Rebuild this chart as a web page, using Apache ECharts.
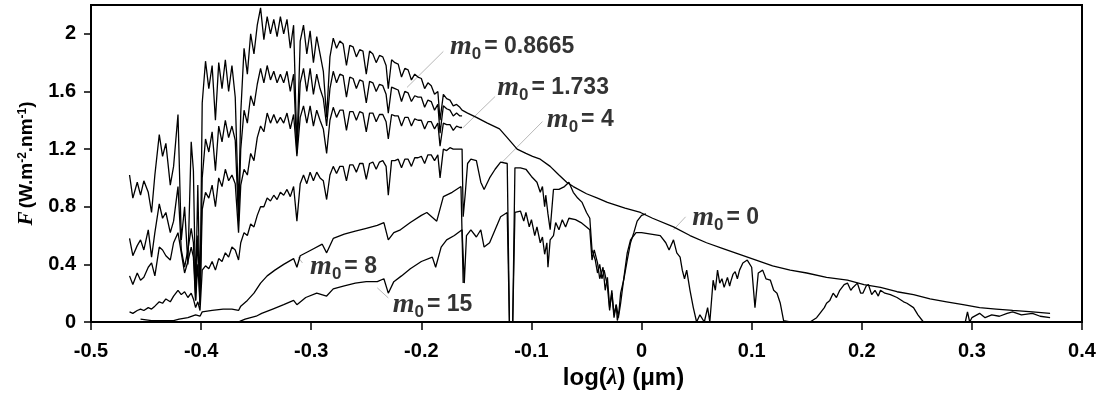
<!DOCTYPE html>
<html><head><meta charset="utf-8">
<script src="https://cdn.jsdelivr.net/npm/echarts@6/dist/echarts.min.js"></script>
<style>html,body{margin:0;padding:0;background:#fff}#c{width:1101px;height:396px}</style>
</head><body><div id="c"></div>
<script>
// ---- data (log10 wavelength in µm vs spectral irradiance W.m-2.nm-1) ----
const yTickValues = [0, 0.4, 0.8, 1.2, 1.6, 2];

const xUV = [-0.465,-0.462,-0.458,-0.455,-0.452,-0.448,-0.445,-0.442,-0.438,-0.435,-0.432,-0.428,-0.425,-0.421,-0.418,-0.415,-0.412,-0.409,-0.407,-0.405,-0.403,-0.401,-0.399,-0.396,-0.393,-0.390,-0.387,-0.384,-0.381,-0.378,-0.375,-0.372,-0.369,-0.366,-0.364,-0.361,-0.358,-0.355,-0.352,-0.349,-0.346,-0.343,-0.340,-0.337,-0.334,-0.331,-0.328,-0.325,-0.322,-0.319,-0.316,-0.313,-0.310,-0.307,-0.304,-0.301,-0.298,-0.295,-0.292,-0.289,-0.286,-0.283,
 -0.280,-0.277,-0.274,-0.271,-0.268,-0.265,-0.262,-0.259,-0.256,-0.253,-0.250,-0.247,-0.244,-0.241,-0.238,-0.235,-0.232,-0.230,-0.227,-0.224,-0.221,-0.218,-0.215,-0.212,-0.209,-0.206,-0.203,-0.200,-0.197,-0.194,-0.191,-0.188,-0.185,-0.183,-0.180,-0.177,-0.174,-0.171,-0.168,-0.165,-0.163];

const m0_0_uv = [1.02,0.86,0.97,0.88,0.98,0.90,0.76,1.02,1.30,1.15,1.24,0.95,1.08,1.44,0.57,0.80,0.40,1.25,1.05,0.20,0.95,0.15,1.52,1.81,1.62,1.78,1.40,1.80,1.62,1.82,1.60,1.78,1.56,0.78,1.45,1.90,1.72,2.00,1.86,2.06,2.18,1.96,2.12,2.00,2.10,1.98,2.12,2.00,2.10,1.90,2.06,1.20,1.95,2.06,1.86,2.02,1.80,1.98,1.86,1.74,1.42,1.84,
 1.97,1.90,1.95,1.93,1.78,1.92,1.91,1.84,1.89,1.88,1.72,1.88,1.86,1.80,1.85,1.84,1.78,1.62,1.82,1.80,1.79,1.70,1.76,1.75,1.68,1.72,1.70,1.69,1.62,1.66,1.64,1.58,1.60,1.40,1.58,1.55,1.54,1.50,1.51,1.49,1.47];
const m0_0_tail_x = [-0.158,-0.150,-0.140,-0.129,-0.122,-0.113,-0.105,-0.099,-0.092,-0.083,-0.075,-0.068,-0.062,-0.050,-0.040,-0.031,-0.015,-0.001,0.010,0.029,0.044,0.059,0.074,0.089,0.104,0.119,0.135,0.150,0.168,0.187,0.202,0.217,0.232,0.247,0.262,0.277,0.292,0.307,0.322,0.337,0.355,0.371];
const m0_0_tail = [1.45,1.42,1.38,1.34,1.28,1.20,1.17,1.15,1.13,1.08,1.02,0.97,0.94,0.89,0.86,0.83,0.79,0.76,0.72,0.66,0.60,0.55,0.51,0.47,0.43,0.39,0.36,0.34,0.31,0.29,0.26,0.24,0.21,0.19,0.16,0.14,0.12,0.10,0.09,0.08,0.07,0.06];

const m0_08665 = [0.58,0.46,0.53,0.57,0.50,0.64,0.45,0.62,0.82,0.72,0.76,0.62,0.70,0.94,0.50,0.38,0.50,0.65,0.55,0.15,0.60,0.12,1.00,1.27,1.18,1.32,1.05,1.36,1.25,1.40,1.28,1.36,1.26,0.70,1.20,1.47,1.38,1.57,1.50,1.65,1.76,1.66,1.78,1.68,1.74,1.66,1.72,1.66,1.74,1.60,1.72,1.17,1.66,1.76,1.60,1.76,1.58,1.72,1.62,1.55,1.36,1.62,
 1.74,1.66,1.72,1.71,1.56,1.70,1.69,1.62,1.68,1.67,1.52,1.67,1.66,1.60,1.65,1.64,1.58,1.45,1.63,1.62,1.61,1.53,1.60,1.59,1.53,1.57,1.56,1.56,1.49,1.54,1.53,1.47,1.51,1.31,1.50,1.48,1.47,1.43,1.45,1.43,1.43];

const m0_1733 = [0.32,0.26,0.34,0.29,0.31,0.38,0.41,0.32,0.52,0.50,0.46,0.43,0.55,0.62,0.48,0.34,0.42,0.52,0.45,0.15,0.40,0.12,0.78,0.90,0.86,0.95,0.80,1.00,0.94,1.06,0.98,1.02,0.96,0.62,0.95,1.06,1.02,1.17,1.12,1.28,1.36,1.32,1.45,1.38,1.44,1.38,1.42,1.38,1.45,1.34,1.44,1.15,1.42,1.50,1.38,1.50,1.36,1.47,1.40,1.34,1.17,1.40,
 1.49,1.42,1.47,1.47,1.33,1.46,1.46,1.40,1.46,1.45,1.32,1.45,1.45,1.39,1.44,1.44,1.39,1.27,1.44,1.43,1.43,1.36,1.42,1.42,1.36,1.41,1.40,1.40,1.34,1.39,1.39,1.34,1.38,1.22,1.38,1.37,1.37,1.33,1.36,1.35,1.35];

const m0_4_uv = [0.07,0.06,0.08,0.09,0.08,0.10,0.09,0.11,0.14,0.13,0.16,0.14,0.18,0.22,0.19,0.21,0.17,0.20,0.16,0.10,0.14,0.08,0.36,0.39,0.37,0.42,0.36,0.44,0.42,0.48,0.45,0.52,0.50,0.43,0.55,0.62,0.60,0.68,0.66,0.74,0.80,0.80,0.86,0.84,0.88,0.85,0.90,0.88,0.92,0.87,0.94,0.70,0.96,1.02,0.96,1.04,0.98,1.04,1.00,0.98,0.85,1.02,
 1.08,1.03,1.08,1.08,0.98,1.09,1.09,1.04,1.10,1.10,0.99,1.10,1.11,1.06,1.11,1.12,1.08,0.88,1.12,1.12,1.13,1.07,1.13,1.13,1.08,1.14,1.14,1.15,1.10,1.16,1.16,1.12,1.16,1.00,1.20,1.19,1.21,1.20,1.20,1.20,1.20];
const m0_4_nir_x = [-0.162,-0.160,-0.158,-0.155,-0.150,-0.146,-0.143,-0.138,-0.133,-0.128,-0.122,-0.120,-0.117,-0.115,-0.110,-0.105,-0.100,-0.095,-0.092,-0.090,-0.088,-0.087,-0.085,-0.083,-0.080,-0.075,-0.070,-0.066,-0.062,-0.058,-0.054,-0.050,-0.047,-0.045,-0.042,-0.040,-0.038,-0.036,-0.034,-0.031,-0.029,-0.027,-0.025,-0.023,-0.021,-0.019,-0.016,-0.013,-0.010,-0.007,-0.004,0.000,0.004];
const m0_4_nir = [0.73,0.90,1.10,1.13,1.12,0.97,0.92,1.00,1.06,1.11,1.10,0.00,0.00,1.07,1.07,1.06,1.01,0.97,0.90,0.94,0.80,0.88,0.75,0.64,0.92,0.92,0.94,0.97,0.90,0.86,0.83,0.76,0.72,0.50,0.43,0.34,0.40,0.30,0.36,0.25,0.08,0.22,0.05,0.12,0.03,0.20,0.30,0.43,0.55,0.62,0.70,0.74,0.75];

const m0_8_x = [-0.455,-0.445,-0.435,-0.425,-0.420,-0.412,-0.405,-0.401,-0.399,-0.390,-0.380,-0.372,-0.366,-0.364,-0.358,-0.352,-0.346,-0.340,-0.333,-0.325,-0.316,-0.313,-0.310,-0.300,-0.290,-0.286,-0.280,-0.270,-0.260,-0.250,-0.240,-0.234,-0.230,-0.225,-0.219,-0.210,-0.200,-0.195,-0.186,-0.180,-0.172,-0.164,-0.162];
const m0_8 = [0.02,0.01,0.01,0.01,0.02,0.03,0.05,0.04,0.07,0.08,0.09,0.09,0.08,0.11,0.15,0.20,0.27,0.32,0.36,0.40,0.44,0.38,0.46,0.50,0.54,0.48,0.58,0.61,0.63,0.65,0.67,0.69,0.57,0.62,0.64,0.69,0.74,0.76,0.70,0.87,0.90,0.94,0.27];

// m0 = 15, segment by segment (visible, O2 bands, water bands, near infrared)
const m0_15_vis_x = [-0.400,-0.380,-0.365,-0.360,-0.350,-0.345,-0.335,-0.325,-0.316,-0.313,-0.305,-0.295,-0.286,-0.280,-0.270,-0.260,-0.250,-0.240,-0.234,-0.230,-0.225,-0.218,-0.210,-0.200,-0.190,-0.187,-0.182,-0.177,-0.170,-0.163];
const m0_15_vis   = [0.00,0.00,0.005,0.02,0.04,0.06,0.09,0.12,0.15,0.12,0.17,0.20,0.18,0.23,0.25,0.27,0.28,0.28,0.30,0.20,0.28,0.32,0.37,0.42,0.45,0.38,0.52,0.57,0.60,0.64];
const m0_15_o2_x = [-0.161,-0.159,-0.155,-0.150,-0.146,-0.143,-0.138,-0.133,-0.128,-0.122,-0.120,-0.117,-0.115];
const m0_15_o2   = [0.27,0.60,0.64,0.59,0.64,0.52,0.55,0.64,0.73,0.76,0.00,0.00,0.76];
const m0_15_nir1_x = [-0.110,-0.107,-0.105,-0.102,-0.100,-0.097,-0.095,-0.092,-0.090,-0.088,-0.086,-0.085,-0.083,-0.080,-0.078,-0.075,-0.072,-0.069,-0.066,-0.060,-0.055,-0.050,-0.047];
const m0_15_nir1   = [0.77,0.70,0.76,0.66,0.71,0.60,0.66,0.55,0.59,0.47,0.55,0.38,0.57,0.60,0.69,0.64,0.71,0.66,0.72,0.71,0.69,0.66,0.64];
const m0_15_w940_x = [-0.045,-0.043,-0.040,-0.038,-0.035,-0.033,-0.031,-0.029,-0.027,-0.025,-0.023,-0.022,-0.020,-0.019,-0.016,-0.013,-0.010,-0.005,0.000];
const m0_15_w940   = [0.43,0.50,0.41,0.30,0.38,0.22,0.31,0.10,0.20,0.03,0.12,0.01,0.08,0.13,0.31,0.48,0.57,0.62,0.62];
const m0_15_w1130_x = [0.017,0.022,0.025,0.029,0.032,0.035,0.037,0.039,0.041,0.044,0.047,0.050,0.053,0.057,0.060,0.062];
const m0_15_w1130   = [0.60,0.55,0.50,0.57,0.48,0.45,0.36,0.30,0.36,0.22,0.10,0.00,0.05,0.00,0.10,0.00];
const m0_15_nir2_x = [0.065,0.067,0.069,0.071,0.073,0.075,0.078,0.080,0.081,0.083,0.085,0.087,0.089,0.092,0.096,0.100,0.103,0.106,0.110,0.113,0.117,0.120,0.123,0.126,0.129];
const m0_15_nir2   = [0.29,0.22,0.36,0.27,0.30,0.24,0.31,0.25,0.28,0.33,0.35,0.30,0.36,0.41,0.43,0.38,0.10,0.34,0.36,0.30,0.29,0.22,0.20,0.13,0.01];
const m0_15_nir3_x = [0.135,0.153,0.159,0.162,0.166,0.168,0.171,0.174,0.177,0.180,0.184,0.187,0.190,0.192,0.196,0.199,0.201,0.204,0.206,0.209,0.212,0.215,0.217,0.221,0.226,0.232,0.238,0.241,0.247,0.251,0.256,0.280,0.294];
const m0_15_nir3   = [0.00,0.00,0.03,0.06,0.10,0.13,0.15,0.20,0.17,0.22,0.26,0.27,0.22,0.24,0.27,0.20,0.20,0.25,0.26,0.19,0.22,0.18,0.22,0.20,0.19,0.17,0.14,0.13,0.10,0.05,0.00,0.00,0.00];
const m0_15_nir4_x = [0.296,0.298,0.300,0.307,0.312,0.318,0.325,0.332,0.337,0.345,0.355,0.362,0.371];
const m0_15_nir4   = [0.07,0.00,0.03,0.06,0.03,0.05,0.04,0.06,0.07,0.05,0.06,0.04,0.03];

// annotation labels and their leader lines (data coordinates)
const labelNames = ['0.8665', '1.733', '4', '0', '8', '15'];
const labelAnchorX = [-0.174, -0.131, -0.086, 0.046, -0.301, -0.226];
const labelAnchorY = [1.913, 1.628, 1.405, 0.723, 0.383, 0.118];
const leaderFrom = [[-0.180, 1.878], [-0.133, 1.565], [-0.090, 1.391], [0.040, 0.730], [-0.312, 0.452], [-0.240, 0.237]];
const leaderTo   = [[-0.213, 1.628], [-0.162, 1.350], [-0.127, 1.106], [0.029, 0.640], [-0.308, 0.410], [-0.230, 0.167]];

// ---- build ----
function pairs(xs, ys) { return xs.map((x, i) => [x, ys[i]]); }
const lineStyle = { color: '#000', width: 1.3 };
function curve(name, data) {
  return { name, type: 'line', data, symbol: 'none', lineStyle, silent: true, animation: false, z: 3 };
}
const series = [
  curve('m0=0', pairs(xUV, m0_0_uv).concat(pairs(m0_0_tail_x, m0_0_tail))),
  curve('m0=0.8665', pairs(xUV, m0_08665)),
  curve('m0=1.733', pairs(xUV, m0_1733)),
  curve('m0=4', pairs(xUV, m0_4_uv).concat(pairs(m0_4_nir_x, m0_4_nir))),
  curve('m0=8', pairs(m0_8_x, m0_8)),
  curve('m0=15', [].concat(
    pairs(m0_15_vis_x, m0_15_vis), pairs(m0_15_o2_x, m0_15_o2), pairs(m0_15_nir1_x, m0_15_nir1),
    pairs(m0_15_w940_x, m0_15_w940), pairs(m0_15_w1130_x, m0_15_w1130), pairs(m0_15_nir2_x, m0_15_nir2),
    pairs(m0_15_nir3_x, m0_15_nir3), pairs(m0_15_nir4_x, m0_15_nir4)))
];
leaderFrom.forEach((p, i) => {
  series.push({ type: 'line', data: [p, leaderTo[i]], symbol: 'none', silent: true, animation: false,
    lineStyle: { color: '#b8b8b8', width: 1 }, z: 2 });
});
series.push({
  type: 'scatter', symbolSize: 0, silent: true, animation: false, z: 5,
  data: labelAnchorX.map((x, i) => ({ value: [x, labelAnchorY[i]], name: labelNames[i] })),
  label: {
    show: true, position: 'right', distance: 0, color: '#000',
    formatter: p => '{m|m}{s|0}{t|= ' + p.name + '}',
    rich: {
      m: { fontFamily: 'Liberation Serif', fontStyle: 'italic', fontWeight: 'bold', fontSize: 28, lineHeight: 26, color: '#000' },
      s: { fontFamily: 'Liberation Sans', fontWeight: 'bold', fontSize: 17, lineHeight: 32, verticalAlign: 'bottom', color: '#000', padding: [0, 3, 0, 0] },
      t: { fontFamily: 'Liberation Sans', fontWeight: 'bold', fontSize: 23, lineHeight: 26, color: '#000' }
    }
  }
});

const chart = echarts.init(document.getElementById('c'), null, { renderer: 'canvas' });
chart.setOption({
  animation: false,
  backgroundColor: '#fff',
  grid: { left: 91, right: 19, top: 5, bottom: 74, show: true, borderColor: '#000', borderWidth: 2, backgroundColor: 'transparent' },
  xAxis: {
    type: 'value', min: -0.5, max: 0.4, interval: 0.1,
    axisLine: { show: true, onZero: false, lineStyle: { color: '#000', width: 2 } },
    axisTick: { show: true, length: 8, inside: false, lineStyle: { color: '#000', width: 1.5 } },
    axisLabel: { color: '#000', fontFamily: 'Liberation Sans', fontWeight: 'bold', fontSize: 20, margin: 19 },
    splitLine: { show: false },
    name: '{t|log(}{l|λ}{t|) (μm)}', nameLocation: 'middle', nameGap: 44,
    nameTextStyle: { padding: [0, 0, 0, 74], rich: {
      t: { fontFamily: 'Liberation Sans', fontWeight: 'bold', fontSize: 24, color: '#000' },
      l: { fontFamily: 'Liberation Serif', fontStyle: 'italic', fontWeight: 'bold', fontSize: 24, color: '#000' } } }
  },
  yAxis: {
    type: 'value', min: 0, max: 2.2,
    axisLine: { show: true, onZero: false, lineStyle: { color: '#000', width: 2 } },
    axisTick: { show: true, length: 7, customValues: yTickValues, lineStyle: { color: '#000', width: 1.5 } },
    axisLabel: { color: '#000', fontFamily: 'Liberation Sans', fontWeight: 'bold', fontSize: 20, margin: 15, customValues: yTickValues },
    splitLine: { show: false },
    name: '{f|F} {t|(W.m}{p|-2}{t|.nm}{p|-1}{t|)}', nameLocation: 'middle', nameRotate: 90, nameGap: 53,
    nameTextStyle: { rich: {
      f: { fontFamily: 'Liberation Serif', fontStyle: 'italic', fontWeight: 'bold', fontSize: 21, color: '#000' },
      t: { fontFamily: 'Liberation Sans', fontWeight: 'bold', fontSize: 19, color: '#000' },
      p: { fontFamily: 'Liberation Sans', fontWeight: 'bold', fontSize: 12, verticalAlign: 'top', color: '#000' } } }
  },
  series
});
</script>
</body></html>
